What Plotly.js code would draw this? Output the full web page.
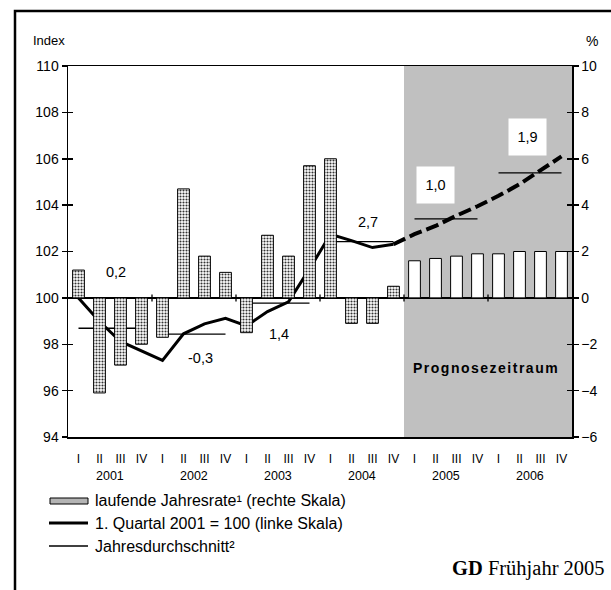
<!DOCTYPE html>
<html>
<head>
<meta charset="utf-8">
<script src="https://cdn.plot.ly/plotly-3.0.1.min.js"></script>
<style>
  html, body { margin: 0; padding: 0; background: #fff; }
  #chart { width: 611px; height: 590px; }
</style>
</head>
<body>
<div id="chart"></div>
<script>
// ---------------- data ----------------
const quarterLabels = ['I','II','III','IV','I','II','III','IV','I','II','III','IV',
                       'I','II','III','IV','I','II','III','IV','I','II','III','IV'];
const years = ['2001','2002','2003','2004','2005','2006'];
// laufende Jahresrate (%), right axis
const rate = [1.2, -4.1, -2.9, -2.0, -1.7, 4.7, 1.8, 1.1, -1.5, 2.7, 1.8, 5.7,
              6.0, -1.1, -1.1, 0.5, 1.6, 1.7, 1.8, 1.9, 1.9, 2.0, 2.0, 2.0];
// 1. Quartal 2001 = 100, left axis (actual: 2001 I .. 2004 IV)
const indexActual = [100.0, 98.98, 98.12, 97.7, 97.3, 98.45, 98.88, 99.12,
                     98.79, 99.41, 99.83, 101.25, 102.74, 102.47, 102.17, 102.31];
// forecast: 2004 IV .. 2006 IV
const indexForecast = [102.31, 102.75, 103.1, 103.55, 103.95, 104.4, 104.9, 105.5, 106.1];
// Jahresdurchschnitt (index level)
const yearAvg = [98.69, 98.44, 99.77, 102.43, 103.41, 105.39];
// annual growth labels
const growthLabels = ['0,2', '-0,3', '1,4', '2,7', '1,0', '1,9'];
const forecastStart = 16; // first forecast quarter index

// ---------------- helpers / layout config ----------------
const PL = 68, PR = 572, PT = 66, PB = 437;
const px2x = p => (p - PL) / (PR - PL);
const px2y = p => (PB - p) / (PB - PT);
const FONT = 'Arial, "Liberation Sans", sans-serif';

const qx = rate.map((_, i) => i);
const histX = indexActual.map((_, i) => i);
const fcX = indexForecast.map((_, i) => forecastStart - 1 + i);

// label placement (data coords), separate from data
const labelPos = [[1.79, 101.12], [5.79, 97.41], [9.55, 98.45], [13.79, 103.28], [17.02, 104.87], [21.36, 106.94]];
const labelBoxed = [false, false, false, false, true, true];

// average segments
const avgX = [], avgY = [];
yearAvg.forEach((v, i) => { avgX.push(4 * i, 4 * i + 3, null); avgY.push(v, v, null); });

const traces = [
  {
    type: 'bar', x: qx, y: rate, yaxis: 'y2', width: 0.56,
    marker: {
      color: '#ffffff',
      line: { color: '#000', width: 1 },
      pattern: {
        shape: rate.map((_, i) => i < forecastStart ? '.' : ''),
        fgcolor: '#333', bgcolor: '#ffffff', size: 3, solidity: 0.4
      }
    },
    hoverinfo: 'skip'
  },
  {
    type: 'scatter', mode: 'lines', x: avgX, y: avgY, yaxis: 'y',
    line: { color: '#000', width: 1.3 }, hoverinfo: 'skip'
  },
  {
    type: 'scatter', mode: 'lines', x: histX, y: indexActual, yaxis: 'y',
    line: { color: '#000', width: 3 }, hoverinfo: 'skip'
  },
  {
    type: 'scatter', mode: 'lines', x: fcX, y: indexForecast, yaxis: 'y',
    line: { color: '#000', width: 4, dash: '13px,5px' }, hoverinfo: 'skip'
  },
  { type: 'scatter', mode: 'lines', x: [0], y: [100], yaxis: 'y3', line: { width: 0 }, hoverinfo: 'skip' },
  { type: 'scatter', mode: 'lines', x: [0], y: [0], yaxis: 'y4', line: { width: 0 }, hoverinfo: 'skip' }
];

const shapes = [
  // forecast shading
  { type: 'rect', xref: 'x', yref: 'paper', x0: forecastStart - 0.5, x1: 23.5, y0: 0, y1: 1,
    fillcolor: '#c0c0c0', line: { width: 0 }, layer: 'below' },
  // outer frame
  { type: 'rect', xref: 'paper', yref: 'paper', x0: px2x(15), x1: px2x(660), y0: px2y(640), y1: px2y(11),
    line: { color: '#000', width: 2.5 }, fillcolor: 'rgba(0,0,0,0)' }
];
// year separator ticks on zero line
for (let i = 1; i < years.length; i++) {
  shapes.push({ type: 'line', xref: 'x', yref: 'y2', x0: 4 * i - 0.5, x1: 4 * i - 0.5,
    ysizemode: 'pixel', yanchor: 0, y0: -3.5, y1: 3.5, line: { color: '#000', width: 1.3 } });
}
// legend icons
shapes.push({ type: 'rect', xref: 'paper', yref: 'paper', x0: px2x(50), x1: px2x(88), y0: px2y(504), y1: px2y(498),
  fillcolor: '#b4b4b4', line: { color: '#000', width: 1 } });
shapes.push({ type: 'line', xref: 'paper', yref: 'paper', x0: px2x(49), x1: px2x(88), y0: px2y(523), y1: px2y(523),
  line: { color: '#000', width: 3 } });
shapes.push({ type: 'line', xref: 'paper', yref: 'paper', x0: px2x(49), x1: px2x(88), y0: px2y(546), y1: px2y(546),
  line: { color: '#000', width: 1.3 } });

const annotations = [];
growthLabels.forEach((t, i) => {
  const a = { text: t, x: labelPos[i][0], y: labelPos[i][1], xref: 'x', yref: 'y', showarrow: false,
    xanchor: 'center', yanchor: 'middle',
    font: { family: FONT, size: 14.5, color: '#000' } };
  if (labelBoxed[i]) { a.bgcolor = '#fff'; a.width = 35; a.height = 34; }
  annotations.push(a);
});
years.forEach((y, i) => {
  annotations.push({ text: y, x: 4 * i + 1.5, y: px2y(476), xref: 'x', yref: 'paper', showarrow: false,
    xanchor: 'center', yanchor: 'middle',
    font: { family: FONT, size: 12.5, color: '#000' } });
});
annotations.push({ text: '<b><span style="letter-spacing:1.5px">Prognosezeitraum</span></b>', x: 19.4, y: 96.98,
  xref: 'x', yref: 'y', showarrow: false, xanchor: 'center', yanchor: 'middle',
  font: { family: FONT, size: 14, color: '#000' } });
annotations.push({ text: 'Index', x: px2x(31), y: px2y(40), xref: 'paper', yref: 'paper', xanchor: 'left',
  yanchor: 'middle', showarrow: false, font: { family: FONT, size: 13, color: '#000' } });
annotations.push({ text: '%', x: px2x(592), y: px2y(41), xref: 'paper', yref: 'paper', xanchor: 'center',
  yanchor: 'middle', showarrow: false, font: { family: FONT, size: 14, color: '#000' } });
const legendTexts = ['laufende Jahresrate¹ (rechte Skala)', '1. Quartal 2001 = 100 (linke Skala)', 'Jahresdurchschnitt²'];
[501, 523, 546].forEach((py, i) => {
  annotations.push({ text: legendTexts[i], x: px2x(93), y: px2y(py), xref: 'paper', yref: 'paper',
    xanchor: 'left', yanchor: 'middle', showarrow: false, font: { family: FONT, size: 16, color: '#000' } });
});
annotations.push({ text: '<b>GD</b> Frühjahr 2005', x: px2x(607), y: px2y(568), xref: 'paper', yref: 'paper',
  xanchor: 'right', yanchor: 'middle', showarrow: false,
  font: { family: '"Liberation Serif", "Times New Roman", serif', size: 20.5, color: '#000' } });

const axisCommon = { showgrid: false, fixedrange: true, linecolor: '#000', linewidth: 1.5, tickcolor: '#000', tickwidth: 1.5 };

const layout = {
  width: 611, height: 590,
  margin: { l: PL, r: 611 - PR, t: PT, b: 590 - PB, pad: 0 },
  paper_bgcolor: '#fff', plot_bgcolor: 'rgba(0,0,0,0)',
  showlegend: false,
  bargap: 0,
  font: { family: FONT, color: '#000' },
  xaxis: Object.assign({}, axisCommon, {
    range: [-0.5, 23.5], tickvals: qx, ticktext: quarterLabels, ticks: '',
    tickfont: { family: FONT, size: 12, color: '#000' }, ticklabelstandoff: 10,
    showline: true, mirror: true, zeroline: false
  }),
  yaxis: Object.assign({}, axisCommon, {
    range: [94, 110], dtick: 2, tick0: 94, ticks: 'outside', ticklen: 5, showline: true, zeroline: false,
    tickfont: { family: FONT, size: 14, color: '#000' }
  }),
  yaxis2: Object.assign({}, axisCommon, {
    overlaying: 'y', side: 'right', range: [-6, 10], dtick: 2, tick0: -6, ticks: 'outside', ticklen: 5,
    showline: true, zeroline: true, zerolinecolor: '#000', zerolinewidth: 1.5,
    tickfont: { family: FONT, size: 14, color: '#000' }
  }),
  yaxis3: Object.assign({}, axisCommon, {
    overlaying: 'y', side: 'left', range: [94, 110], dtick: 2, tick0: 94, ticks: 'inside', ticklen: 5,
    showticklabels: false, showline: false, zeroline: false
  }),
  yaxis4: Object.assign({}, axisCommon, {
    overlaying: 'y', side: 'right', range: [-6, 10], dtick: 2, tick0: -6, ticks: 'inside', ticklen: 5,
    showticklabels: false, showline: false, zeroline: false
  }),
  shapes: shapes,
  annotations: annotations
};

Plotly.newPlot('chart', traces, layout, { staticPlot: true, displayModeBar: false });
</script>
</body>
</html>
